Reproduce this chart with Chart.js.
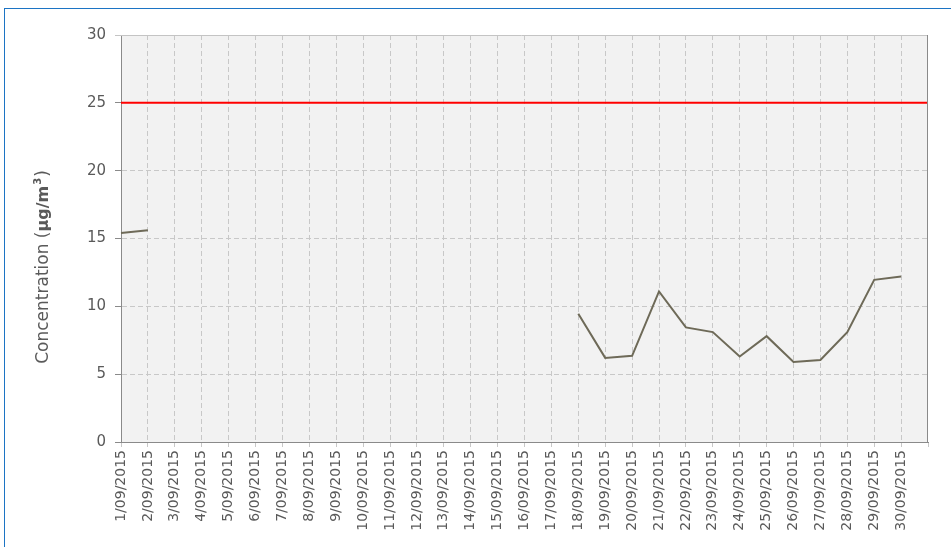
<!DOCTYPE html>
<html>
<head>
<meta charset="utf-8">
<script src="https://cdn.jsdelivr.net/npm/chart.js@4/dist/chart.umd.min.js"></script>
<style>
  body { margin: 0; overflow: hidden; background: #fff; }
  #frame { position: absolute; left: 4px; top: 8px; width: 1000px; height: 600px;
           border-left: 1px solid #1c74c4; border-top: 1px solid #1c74c4; }
  #chart { position: absolute; left: 0; top: 0; }
</style>
</head>
<body>
<div id="frame"></div>
<canvas id="chart" width="951" height="547"></canvas>
<script>
// Fechas del mes (la última posición queda vacía, como en el original)
const dates = [
  '1/09/2015', '2/09/2015', '3/09/2015', '4/09/2015', '5/09/2015', '6/09/2015',
  '7/09/2015', '8/09/2015', '9/09/2015', '10/09/2015', '11/09/2015', '12/09/2015',
  '13/09/2015', '14/09/2015', '15/09/2015', '16/09/2015', '17/09/2015', '18/09/2015',
  '19/09/2015', '20/09/2015', '21/09/2015', '22/09/2015', '23/09/2015', '24/09/2015',
  '25/09/2015', '26/09/2015', '27/09/2015', '28/09/2015', '29/09/2015', '30/09/2015',
  ' '
];

// Concentración diaria (µg/m³); null = sin dato
const concentration = [
  15.4, 15.6, null, null, null, null, null, null, null, null,
  null, null, null, null, null, null, null, 9.45, 6.2, 6.35,
  11.1, 8.45, 8.1, 6.3, 7.8, 5.9, 6.05, 8.1, 11.95, 12.2
];

// Valor límite
const limitValue = 25;
const yTicks = [0, 5, 10, 15, 20, 25, 30];

const TXT = '#5a5a5a';
const FONT = "'DejaVu Sans', sans-serif";

// Fondo del área, marco y título del eje Y
const plotFrame = {
  id: 'plotFrame',
  beforeDraw(chart) {
    const { ctx, chartArea: a } = chart;
    ctx.save();
    ctx.fillStyle = '#f2f2f2';
    ctx.fillRect(a.left, a.top, a.right - a.left, a.bottom - a.top);
    ctx.restore();
  },
  afterDraw(chart) {
    const { ctx, chartArea: a } = chart;
    ctx.save();
    ctx.lineWidth = 1;
    ctx.strokeStyle = '#c4c4c4';
    ctx.beginPath();
    ctx.moveTo(a.left - 6, a.top + 0.5);
    ctx.lineTo(a.right, a.top + 0.5);
    ctx.stroke();
    ctx.strokeStyle = '#8a8a8a';
    ctx.beginPath();
    ctx.moveTo(a.right - 0.5, a.top);
    ctx.lineTo(a.right - 0.5, a.bottom);
    ctx.stroke();

    // título del eje Y
    ctx.translate(44, 268);
    ctx.rotate(-Math.PI / 2);
    ctx.fillStyle = TXT;
    ctx.textBaseline = 'middle';
    const p1 = 'Concentration (';
    const p2 = 'µg/m';
    const p3 = '3';
    const p4 = ')';
    ctx.font = '17px ' + FONT;
    const w1 = ctx.measureText(p1).width;
    const w4 = ctx.measureText(p4).width;
    ctx.font = 'bold 16px ' + FONT;
    const w2 = ctx.measureText(p2).width;
    ctx.font = 'bold 10px ' + FONT;
    const w3 = ctx.measureText(p3).width;
    let x = -(w1 + w2 + w3 + w4) / 2;
    ctx.font = '17px ' + FONT;
    ctx.fillText(p1, x, 0); x += w1;
    ctx.font = 'bold 16px ' + FONT;
    ctx.fillText(p2, x, 0); x += w2;
    ctx.font = 'bold 10px ' + FONT;
    ctx.fillText(p3, x + 1, -6); x += w3 + 2;
    ctx.font = '17px ' + FONT;
    ctx.fillText(p4, x, 0);
    ctx.restore();
  }
};

new Chart(document.getElementById('chart'), {
  type: 'line',
  data: {
    labels: dates,
    datasets: [
      {
        label: 'Concentration',
        data: concentration,
        borderColor: '#6e6a58',
        borderWidth: 2,
        pointRadius: 0,
        spanGaps: false,
        tension: 0
      },
      {
        label: 'Limit',
        data: [{ x: dates[0], y: limitValue }, { x: dates[dates.length - 1], y: limitValue }],
        borderColor: '#ff0000',
        borderWidth: 2,
        pointRadius: 0
      }
    ]
  },
  options: {
    responsive: false,
    animation: false,
    layout: { padding: { left: 0, top: 35, right: 23, bottom: 0 } },
    plugins: { legend: { display: false }, tooltip: { enabled: false } },
    scales: {
      x: {
        offset: false,
        afterFit: (s) => { s.height = 105; },
        grid: {
          // la última línea la tapa el marco derecho
          color: (c) => (c.index === dates.length - 1 ? 'rgba(0,0,0,0)' : '#c8c8c8'),
          tickLength: 5, tickColor: '#c8c8c8', tickBorderDash: []
        },
        border: { display: true, color: '#8a8a8a', dash: [5, 3] },
        ticks: {
          autoSkip: false, minRotation: 90, maxRotation: 90, padding: 3,
          color: TXT, font: { family: FONT, size: 14 }
        }
      },
      y: {
        min: 0, max: 30,
        afterFit: (s) => { s.width = 121; },
        afterBuildTicks: (s) => { s.ticks = yTicks.map(v => ({ value: v })); },
        grid: { color: '#c8c8c8', tickLength: 6, tickColor: '#8a8a8a', tickBorderDash: [] },
        border: { display: true, color: '#8a8a8a', dash: [5, 3] },
        ticks: { padding: 9, color: TXT, font: { family: FONT, size: 15 } }
      }
    }
  },
  plugins: [plotFrame]
});
</script>
</body>
</html>
